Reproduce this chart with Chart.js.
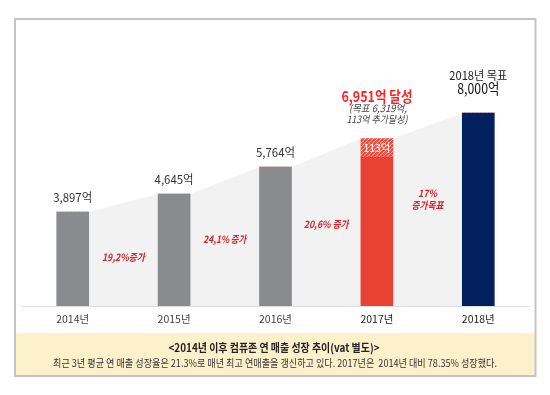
<!DOCTYPE html>
<html><head><meta charset="utf-8">
<script src="https://cdn.jsdelivr.net/npm/chart.js@4/dist/chart.umd.min.js"></script>
<style>
html,body{margin:0;padding:0;background:#fff;width:550px;height:395px;overflow:hidden}
#c{position:absolute;left:0;top:0}
</style></head><body>
<canvas id="c" width="550" height="395"></canvas>
<script>
// ---- data ----
const years = ['2014년', '2015년', '2016년', '2017년', '2018년'];
const totals = [3897, 4645, 5764, 6951, 8000];
const solidValues = [3897, 4645, 5764, 6170, 8000];
const hatchedValues = [0, 0, 0, 781, 0];
const valueLabels = ['3,897억', '4,645억', '5,764억'];
const growthLabels = [['19,2%증가'], ['24,1% 증가'], ['20,6% 증가'], ['17%', '증가목표']];
const label2017 = ['6,951억 달성', '(목표 6,319억,', '113억 추가달성)'];
const hatchLabel = '113억';
const label2018 = ['2018년 목표', '8,000억'];
const captionTitle = '<2014년 이후 컴퓨존 연 매출 성장 추이(vat 별도)>';
const captionText = '최근 3년 평균 연 매출 성장율은 21.3%로 매년 최고 연매출을 갱신하고 있다. 2017년은  2014년 대비 78.35% 성장했다.';

const FONT = "'Noto Sans CJK KR', 'Noto Sans', sans-serif";
const barColors = ['#898b8f', '#898b8f', '#898b8f', '#e94235', '#03205e'];

const canvas = document.getElementById('c');
const mainCtx = canvas.getContext('2d');
function makeHatch() {
  const p = document.createElement('canvas'); p.width = 4; p.height = 4;
  const g = p.getContext('2d');
  g.fillStyle = '#ea5247'; g.fillRect(0, 0, 4, 4);
  g.strokeStyle = 'rgba(255,255,255,0.6)'; g.lineWidth = 1;
  g.beginPath();
  g.moveTo(-1, 5); g.lineTo(5, -1);
  g.moveTo(-3, 3); g.lineTo(3, -3);
  g.moveTo(1, 7); g.lineTo(7, 1);
  g.stroke();
  return mainCtx.createPattern(p, 'repeat');
}
const hatch = makeHatch();

const framePlugin = {
  id: 'frame',
  beforeDraw(chart) {
    const ctx = chart.ctx;
    ctx.save();
    ctx.fillStyle = '#fdf1cc';
    ctx.fillRect(16, 333, 519, 42);
    ctx.strokeStyle = '#c4c4c4';
    ctx.lineWidth = 2;
    ctx.strokeRect(15, 19, 520.5, 357);
    ctx.restore();
  }
};

const areaPlugin = {
  id: 'area',
  beforeDatasetsDraw(chart) {
    const ctx = chart.ctx;
    const meta = chart.getDatasetMeta(0).data;
    const ys = chart.scales.y;
    const base = ys.getPixelForValue(0);
    ctx.save();
    ctx.fillStyle = '#f2f2f2';
    ctx.beginPath();
    const n = meta.length;
    const half = meta[0].width / 2;
    ctx.moveTo(meta[0].x + half, base);
    ctx.lineTo(meta[0].x + half, ys.getPixelForValue(totals[0]));
    for (let i = 1; i < n; i++) {
      const t = ys.getPixelForValue(totals[i]);
      ctx.lineTo(meta[i].x - half, t);
      if (i < n - 1) ctx.lineTo(meta[i].x + half, t);
    }
    ctx.lineTo(meta[n - 1].x - half, base);
    ctx.closePath();
    ctx.fill();
    ctx.restore();
  }
};

function txt(ctx, s, x, y, font, color, maxW) {
  ctx.font = font; ctx.fillStyle = color;
  ctx.textAlign = 'center'; ctx.textBaseline = 'middle';
  const w = ctx.measureText(s).width;
  if (maxW && w > maxW) ctx.fillText(s, x, y, maxW); else ctx.fillText(s, x, y);
}

const labelPlugin = {
  id: 'labels',
  afterDraw(chart) {
    const ctx = chart.ctx;
    const meta = chart.getDatasetMeta(0).data;
    const hmeta = chart.getDatasetMeta(1).data;
    const ys = chart.scales.y;
    const base = ys.getPixelForValue(0);
    ctx.save();
    // value labels on gray bars
    valueLabels.forEach((s, i) => {
      txt(ctx, s, meta[i].x, ys.getPixelForValue(totals[i]) - 15, `12px ${FONT}`, '#333', 39);
    });
    // 2017
    const t17 = ys.getPixelForValue(totals[3]);
    txt(ctx, label2017[0], meta[3].x, t17 - 42, `bold 15px ${FONT}`, '#ff2424', 71);
    txt(ctx, label2017[1], meta[3].x + 1, t17 - 30, `italic 10px ${FONT}`, '#444', 58);
    txt(ctx, label2017[2], meta[3].x, t17 - 19, `italic 10px ${FONT}`, '#444', 61);
    const h = hmeta[3];
    txt(ctx, hatchLabel, h.x, (h.y + h.base) / 2, `11px ${FONT}`, '#ffffff', 27);
    // 2018
    const t18 = ys.getPixelForValue(totals[4]);
    txt(ctx, label2018[0], meta[4].x, t18 - 38, `12px ${FONT}`, '#222', 58);
    txt(ctx, label2018[1], meta[4].x, t18 - 25, `15px ${FONT}`, '#111', 42);
    // growth labels between bars
    const gY = [[49], [67], [82], [113, 101]];
    const gW = [[43], [43], [45], [19, 32]];
    growthLabels.forEach((lines, i) => {
      const x = (meta[i].x + meta[i + 1].x) / 2;
      lines.forEach((s, j) => {
        txt(ctx, s, x, base - gY[i][j], `italic bold 10px ${FONT}`, '#dd1f26', gW[i][j]);
      });
    });
    // caption
    txt(ctx, captionTitle, 274, 348, `bold 11px ${FONT}`, '#222', 211);
    txt(ctx, captionText, 275, 363, `10.5px ${FONT}`, '#333', 444);
    ctx.restore();
  }
};

new Chart(canvas, {
  type: 'bar',
  data: {
    labels: years,
    datasets: [
      { data: solidValues, backgroundColor: barColors, barThickness: 32, borderWidth: 0 },
      { data: hatchedValues, backgroundColor: hatch, barThickness: 32, borderWidth: 0 }
    ]
  },
  options: {
    responsive: false,
    animation: false,
    devicePixelRatio: 1,
    layout: { padding: { left: 22, right: 21, top: 65, bottom: 62 } },
    plugins: { legend: { display: false }, tooltip: { enabled: false } },
    scales: {
      x: {
        stacked: true,
        grid: { display: false, drawTicks: false },
        border: { display: true, color: '#dcdcdc', width: 1 },
        ticks: {
          padding: 7,
          color: (c) => c.index >= 3 ? '#1e1e1e' : '#444',
          font: { size: 10.5, family: FONT }
        },
        afterFit: (s) => { s.height = 27; }
      },
      y: { stacked: true, display: false, min: 0, max: 10000 }
    }
  },
  plugins: [framePlugin, areaPlugin, labelPlugin]
});
</script>
</body></html>
